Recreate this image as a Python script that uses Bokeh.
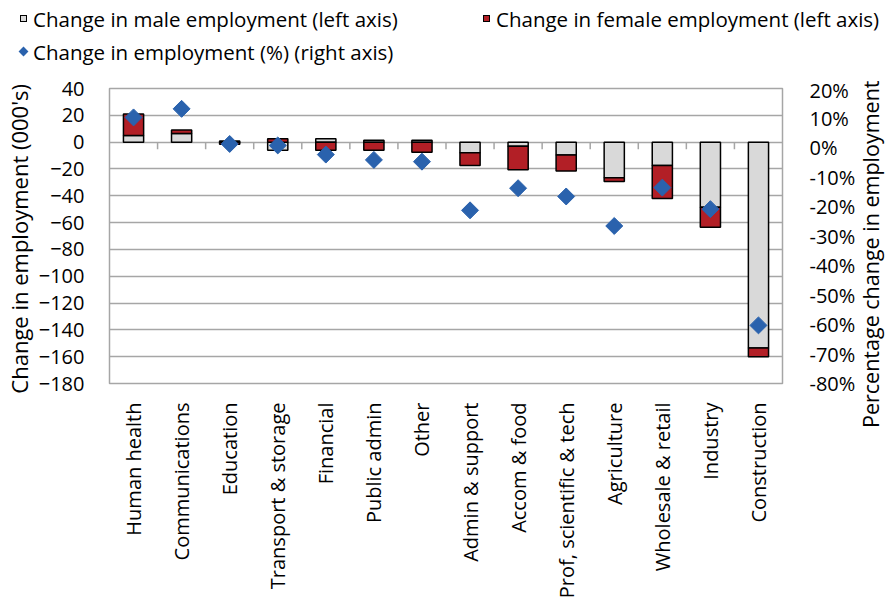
import numpy as np
from bokeh.plotting import figure
from bokeh.layouts import column, row
from bokeh.models import (Range1d, LinearAxis, FixedTicker, PrintfTickFormatter, Div)
from bokeh.embed import file_html
from bokeh.resources import INLINE

# ---------------- data ----------------
categories = ["Human health", "Communications", "Education", "Transport & storage",
              "Financial", "Public admin", "Other", "Admin & support", "Accom & food",
              "Prof, scientific & tech", "Agriculture", "Wholesale & retail",
              "Industry", "Construction"]
male = [5, 6.5, 0.8, -6, 2.5, 1.5, 1.5, -8, -3, -9.5, -26.5, -17.5, -48.5, -153.5]
female = [16, 2.5, -1.5, 2.5, -6, -6, -7.5, -9.5, -17.5, -12, -2.8, -24.5, -15, -6.5]
pct_change = [10.2, 13.1, 1.2, 0.7, -2.4, -4.2, -4.8, -21.3, -13.8, -16.6, -26.6,
              -13.6, -20.9, -60.3]
left_ticks = list(range(-180, 41, 20))
right_ticks = list(range(-80, 21, 10))

legend_labels = ["Change in male employment (left axis)",
                 "Change in female employment (left axis)",
                 "Change in employment (%) (right axis)"]
left_title = "Change in employment  (000's)"
right_title = "Percentage change in employment"

# ---------------- style ----------------
FONT = "Open Sans"
GRAY = "#D9D9D9"
RED = "#B21F26"
BLUE = "#2A62AD"
GRID = "#A6A6A6"

W = 885
LEG_H = 76
H = 607 - LEG_H
TITLE_W = 27
PW = W - TITLE_W
BL, BR, BT, BB = 98, PW - 785, 12, 224
FRAME_H = H - BT - BB

n = len(categories)
xs = list(range(n))
male_bottom = [0] * n
female_bottom = [m if (m >= 0) == (f >= 0) else 0 for m, f in zip(male, female)]
female_top = [b + f for b, f in zip(female_bottom, female)]

# ---------------- legend strip (HTML) ----------------
def sq(left, top, fill, rot=False, border=True):
    st = (f"position:absolute;left:{left}px;top:{top}px;width:7px;height:7px;"
          f"background:{fill};")
    st += "border:1px solid #000;" if border else ""
    st += "transform:rotate(45deg);" if rot else ""
    return f'<span style="{st}"></span>'

def txt(left, top, s):
    return (f'<span style="position:absolute;left:{left}px;top:{top}px;'
            f'line-height:30px;white-space:nowrap;">{s}</span>')

legend_html = (
    f'<div style="position:relative;width:{W}px;height:{LEG_H}px;'
    f'font-family:\'{FONT}\';font-size:20.5px;color:#000;">'
    + sq(20, 15, GRAY) + txt(33, 4, legend_labels[0])
    + sq(483, 15, RED) + txt(496, 4, legend_labels[1])
    + sq(20, 48, BLUE, rot=True, border=False) + txt(33, 37, legend_labels[2])
    + '</div>')
legend_div = Div(text=legend_html, width=W, height=LEG_H,
                 styles={"margin": "0", "padding": "0"})

# ---------------- right-hand title (reads bottom to top) ----------------
title_bottom = 352
title_html = (
    f'<div style="position:relative;width:{TITLE_W}px;height:{H}px;">'
    f'<div style="position:absolute;left:0px;top:{title_bottom}px;'
    f'transform:translate(0,-100%) rotate(180deg);writing-mode:vertical-rl;'
    f'white-space:nowrap;font-family:\'{FONT}\';font-size:21.5px;line-height:26px;'
    f'color:#000;">{right_title}</div></div>')
title_div = Div(text=title_html, width=TITLE_W, height=H,
                styles={"margin": "0", "padding": "0"})

# ---------------- main chart ----------------
y_lo, y_hi = left_ticks[0], left_ticks[-1]
p = figure(width=PW, height=H, output_backend="svg", toolbar_location=None, tools="",
           x_range=Range1d(-0.5, n - 0.5), y_range=Range1d(y_lo, y_hi),
           min_border_left=BL, min_border_right=BR, min_border_top=BT,
           min_border_bottom=BB, background_fill_color="white",
           border_fill_color="white")
p.extra_y_ranges = {"pct": Range1d(right_ticks[0], right_ticks[-1])}

p.outline_line_color = GRID
p.outline_line_width = 1.5
p.xgrid.grid_line_color = None
p.ygrid.ticker = FixedTicker(ticks=left_ticks)
p.ygrid.grid_line_color = GRID
p.ygrid.grid_line_width = 1.5

# category boundary ticks on the zero line
units_per_px = (y_hi - y_lo) / FRAME_H
tick_len = 7 * units_per_px
bx = [i + 0.5 for i in range(n - 1)]
p.segment(x0=bx, x1=bx, y0=[0] * len(bx), y1=[-tick_len] * len(bx),
          line_color=GRID, line_width=1.5)

BAR_W = 0.42
p.vbar(x=xs, width=BAR_W, bottom=male_bottom, top=male, fill_color=GRAY,
       line_color="black", line_width=1.5)
p.vbar(x=xs, width=BAR_W, bottom=female_bottom, top=female_top, fill_color=RED,
       line_color="black", line_width=1.5)
p.scatter(x=xs, y=pct_change, y_range_name="pct", marker="square", angle=np.pi / 4,
          size=12, fill_color=BLUE, line_color=BLUE)

def plain(axis, standoff, size="20px"):
    axis.axis_line_color = None
    axis.major_tick_line_color = None
    axis.minor_tick_line_color = None
    axis.major_label_standoff = standoff
    axis.major_label_text_font = FONT
    axis.major_label_text_font_size = size
    axis.major_label_text_color = "black"

xa = p.xaxis[0]
xa.ticker = FixedTicker(ticks=xs)
xa.major_label_overrides = {i: c for i, c in zip(xs, categories)}
xa.major_label_orientation = np.pi / 2
plain(xa, 13)

ya = p.yaxis[0]
ya.ticker = FixedTicker(ticks=left_ticks)
plain(ya, 19)
ya.axis_label = left_title
ya.axis_label_standoff = 2
ya.axis_label_text_font = FONT
ya.axis_label_text_font_size = "22px"
ya.axis_label_text_font_style = "normal"
ya.axis_label_text_color = "black"

ra = LinearAxis(y_range_name="pct", ticker=FixedTicker(ticks=right_ticks),
                formatter=PrintfTickFormatter(format="%d%%"))
plain(ra, 21)
p.add_layout(ra, "right")

layout = column(legend_div, row(p, title_div, spacing=0), spacing=0)
open("out.html", "w").write(file_html(layout, INLINE))
